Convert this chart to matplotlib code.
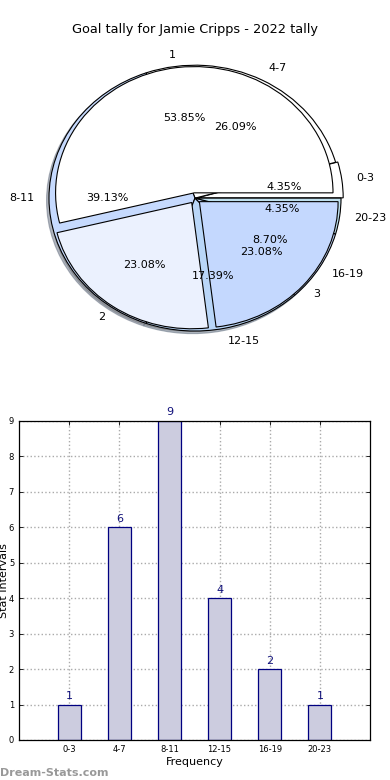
import matplotlib
matplotlib.use("Agg")
import matplotlib.pyplot as plt
import numpy as np

title = "Goal tally for Jamie Cripps - 2022 tally"
goal_labels = ["1", "2", "3"]
goal_counts = [7, 3, 3]
interval_labels = ["0-3", "4-7", "8-11", "12-15", "16-19", "20-23"]
interval_counts = [1, 6, 9, 4, 2, 1]

goal_colors = ["#ffffff", "#ebf1fe", "#c4d8fe"]
interval_colors = ["#ffffff", "#ffffff", "#c6dafe", "#b9d6f8", "#c4d8fe", "#bfe0ee"]

fig = plt.figure(figsize=(3.9, 7.8), dpi=100)

shadow_kw = dict(ox=-0.012, oy=-0.014, shade=0.5)

# --- Pie chart ---
axp = fig.add_axes([0.032, 0.533, 0.936, 0.426])
w1, t1, a1 = axp.pie(interval_counts, labels=interval_labels, colors=interval_colors,
                     autopct="%1.2f%%", shadow=shadow_kw, radius=1.0,
                     explode=[0.015, 0.0, 0.0, 0.0, 0.0, 0.0],
                     wedgeprops=dict(edgecolor="black", linewidth=0.8),
                     textprops=dict(fontsize=8), labeldistance=1.1, pctdistance=0.6)
w2, t2, a2 = axp.pie(goal_counts, labels=goal_labels, colors=goal_colors,
                     autopct="%1.2f%%", shadow=shadow_kw, radius=0.95,
                     explode=[0.04, 0.04, 0.04],
                     wedgeprops=dict(edgecolor="black", linewidth=0.8),
                     textprops=dict(fontsize=8), labeldistance=1.1, pctdistance=0.6)
for w in w2:
    w.set_zorder(3)
for t in list(t1) + list(a1) + list(t2) + list(a2):
    t.set_zorder(5)
axp.set_aspect("auto")
axp.set_xlim(-1.25, 1.25)
axp.set_ylim(-1.25, 1.25)
fig.text(0.5, 1 - 30 / 780, title, fontsize=9.3, ha="center", va="center")

# --- Bar chart ---
axb = fig.add_axes([0.0487, 0.0513, 0.9, 0.409])
x = np.arange(len(interval_labels))
bars = axb.bar(x, interval_counts, width=0.46, color="#ccccdf", edgecolor="#000080",
               linewidth=0.9, zorder=2)
for xi, v in zip(x, interval_counts):
    axb.text(xi, v + 0.1, str(v), ha="center", va="bottom", fontsize=8, color="#10107a")
axb.set_xlim(-1, 6)
axb.set_ylim(0, 9)
axb.set_xticks(x)
axb.set_xticklabels(interval_labels, fontsize=6)
axb.set_yticks(range(0, 10))
axb.tick_params(axis="y", labelsize=6)
axb.tick_params(direction="in", top=True, right=True, length=3, width=0.6)
axb.grid(True, linestyle=":", color="#aaaaaa", linewidth=1.0, zorder=0)
axb.set_axisbelow(True)
axb.set_xlabel("Frequency", fontsize=8, labelpad=2)
axb.set_ylabel("Stat Intervals", fontsize=8, labelpad=0)
for s in axb.spines.values():
    s.set_linewidth(0.9)

fig.text(0.0, 0.003, "Dream-Stats.com", fontsize=8, color="#999999",
         fontweight="bold", ha="left", va="bottom")

fig.savefig("out.png", dpi=100)
